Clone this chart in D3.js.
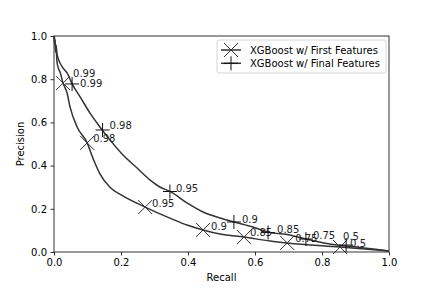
<!DOCTYPE html>
<html>
<head>
<meta charset="utf-8">
<script src="https://cdn.jsdelivr.net/npm/d3@7"></script>
<style>
  html, body { margin: 0; padding: 0; background: #fff; }
  svg { display: block; font-family: "DejaVu Sans", sans-serif; }
</style>
</head>
<body>
<div id="chart"></div>
<script>
// Precision-recall curves
const firstRecall    = [0, 0.0015, 0.003, 0.0045, 0.006, 0.009, 0.012, 0.018, 0.027, 0.039, 0.048, 0.069, 0.099, 0.116, 0.137, 0.167, 0.203, 0.272, 0.346, 0.397, 0.445, 0.496, 0.567, 0.645, 0.696, 0.854, 1.0];
const firstPrecision = [1.0, 0.963, 0.981, 0.926, 0.944, 0.880, 0.856, 0.833, 0.782, 0.736, 0.671, 0.579, 0.505, 0.435, 0.362, 0.300, 0.262, 0.208, 0.157, 0.125, 0.102, 0.083, 0.069, 0.051, 0.042, 0.023, 0.005];

const finalRecall    = [0, 0.0015, 0.003, 0.0045, 0.006, 0.009, 0.012, 0.018, 0.027, 0.039, 0.054, 0.078, 0.107, 0.137, 0.167, 0.206, 0.248, 0.287, 0.316, 0.349, 0.397, 0.445, 0.496, 0.537, 0.594, 0.639, 0.704, 0.752, 0.845, 0.872, 1.0];
const finalPrecision = [1.0, 0.991, 0.972, 0.949, 0.958, 0.917, 0.898, 0.875, 0.852, 0.829, 0.778, 0.718, 0.644, 0.579, 0.519, 0.449, 0.389, 0.333, 0.301, 0.278, 0.227, 0.185, 0.157, 0.139, 0.116, 0.092, 0.079, 0.060, 0.032, 0.028, 0.005];

// threshold markers
const thresholdLabels = ["0.99", "0.98", "0.95", "0.9", "0.85", "0.75", "0.5"];
const firstMarkRecall    = [0.027, 0.099, 0.272, 0.445, 0.567, 0.696, 0.854];
const firstMarkPrecision = [0.782, 0.505, 0.208, 0.102, 0.069, 0.042, 0.023];
const finalMarkRecall    = [0.054, 0.145, 0.346, 0.537, 0.639, 0.752, 0.872];
const finalMarkPrecision = [0.778, 0.565, 0.280, 0.139, 0.090, 0.060, 0.032];

const seriesNames = ["XGBoost w/ First Features", "XGBoost w/ Final Features"];
const ticks = [0, 0.2, 0.4, 0.6, 0.8, 1.0];

// label nudges in pixels (layout only)
const firstLabelDx = [10, 6, 7, 8, 6, 8, 3];
const firstLabelDy = [-6, -1, 0, 0, -1, -1, -7];
const finalLabelDx = [8, 7, 6, 8, 9, 7, 4];
const finalLabelDy = [3, -1, 0, 1, 0, 0, 2];

const width = 432, height = 288;
const margin = {top: 36, right: 43, bottom: 36, left: 54};
const lineColor = "#333";

const svg = d3.select("#chart").append("svg")
    .attr("width", width)
    .attr("height", height);

const x = d3.scaleLinear().domain([0, 1]).range([margin.left, width - margin.right]);
const y = d3.scaleLinear().domain([0, 1]).range([height - margin.bottom, margin.top]);

// axes
const xAxis = svg.append("g")
    .attr("transform", `translate(0,${height - margin.bottom})`)
    .call(d3.axisBottom(x).tickValues(ticks).tickFormat(d3.format(".1f")).tickSizeOuter(0).tickSize(3.5).tickPadding(3.5));
const yAxis = svg.append("g")
    .attr("transform", `translate(${margin.left},0)`)
    .call(d3.axisLeft(y).tickValues(ticks).tickFormat(d3.format(".1f")).tickSizeOuter(0).tickSize(3.5).tickPadding(3.5));
[xAxis, yAxis].forEach(g => {
    g.selectAll("text").attr("font-size", "10px").attr("fill", "#000").attr("font-family", "DejaVu Sans, sans-serif");
    g.selectAll("line").attr("stroke", "#000").attr("stroke-width", 0.8);
    g.select(".domain").remove();
});

// frame
svg.append("rect")
    .attr("x", x(0)).attr("y", y(1))
    .attr("width", x(1) - x(0)).attr("height", y(0) - y(1))
    .attr("fill", "none").attr("stroke", "#000").attr("stroke-width", 0.8);

svg.append("text")
    .attr("x", (x(0) + x(1)) / 2).attr("y", 281)
    .attr("text-anchor", "middle").attr("font-size", "10px")
    .text("Recall");
svg.append("text")
    .attr("transform", `translate(24,${(y(0) + y(1)) / 2}) rotate(-90)`)
    .attr("text-anchor", "middle").attr("font-size", "10px")
    .text("Precision");

const line = d3.line().x(d => x(d[0])).y(d => y(d[1])).curve(d3.curveMonotoneX);

const plot = svg.append("g");

plot.append("path")
    .datum(d3.zip(firstRecall, firstPrecision))
    .attr("d", line)
    .attr("fill", "none").attr("stroke", lineColor).attr("stroke-width", 1.5)
    .attr("stroke-linejoin", "round");
plot.append("path")
    .datum(d3.zip(finalRecall, finalPrecision))
    .attr("d", line)
    .attr("fill", "none").attr("stroke", lineColor).attr("stroke-width", 1.5)
    .attr("stroke-linejoin", "round");

const ms = 7; // half marker size

function xMark(g, cx, cy) {
    g.append("path")
        .attr("d", `M${cx - ms},${cy - ms}L${cx + ms},${cy + ms}M${cx - ms},${cy + ms}L${cx + ms},${cy - ms}`)
        .attr("stroke", lineColor).attr("stroke-width", 1).attr("fill", "none");
}
function plusMark(g, cx, cy) {
    g.append("path")
        .attr("d", `M${cx - ms},${cy}L${cx + ms},${cy}M${cx},${cy - ms}L${cx},${cy + ms}`)
        .attr("stroke", "#111").attr("stroke-width", 1).attr("fill", "none");
}

function drawMarks(rec, prec, markFn, dxs, dys) {
    rec.forEach((r, i) => {
        const cx = x(r), cy = y(prec[i]);
        markFn(plot, cx, cy);
        plot.append("text")
            .attr("x", cx + dxs[i]).attr("y", cy + dys[i])
            .attr("font-size", "10px").attr("fill", "#222")
            .text(thresholdLabels[i]);
    });
}
drawMarks(firstMarkRecall, firstMarkPrecision, xMark, firstLabelDx, firstLabelDy);
drawMarks(finalMarkRecall, finalMarkPrecision, plusMark, finalLabelDx, finalLabelDy);

// legend
const legend = svg.append("g");
legend.append("rect")
    .attr("x", 217).attr("y", 40).attr("width", 169).attr("height", 33)
    .attr("rx", 2).attr("fill", "#fff").attr("fill-opacity", 0.8)
    .attr("stroke", "#ccc").attr("stroke-width", 0.8);
[xMark, plusMark].forEach((fn, i) => {
    const cy = 50 + i * 13.3;
    legend.append("line")
        .attr("x1", 221).attr("x2", 241).attr("y1", cy).attr("y2", cy)
        .attr("stroke", lineColor).attr("stroke-width", 1.5);
    fn(legend, 231, cy);
    legend.append("text")
        .attr("x", 250).attr("y", cy + 3.5)
        .attr("font-size", "10px").attr("fill", "#000")
        .text(seriesNames[i]);
});
</script>
</body>
</html>
